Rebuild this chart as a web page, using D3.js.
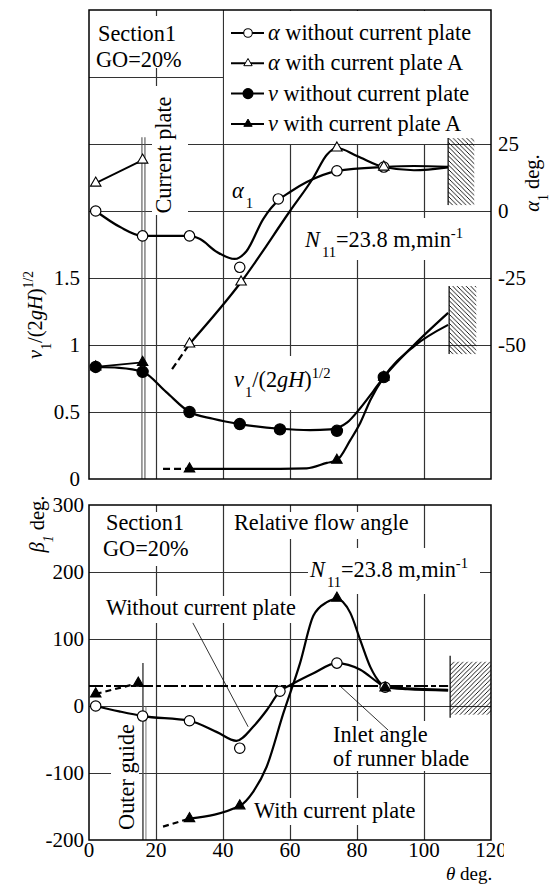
<!DOCTYPE html>
<html>
<head>
<meta charset="utf-8">
<script src="https://cdn.jsdelivr.net/npm/d3@7"></script>
<style>
body { margin: 0; background: #fff; }
svg { display: block; }
</style>
</head>
<body>
<svg id="chart"></svg>
<script>
const svgWidth = 556;
const svgHeight = 885;

// axis ticks
const thetaTicks = [0, 20, 40, 60, 80, 100, 120];
const thetaGrid = [20, 40, 60, 80, 100];
const vTicks = [0, 0.5, 1, 1.5];
const vGrid = [0.5, 1, 1.5, 2, 2.5, 3];
const alphaTicks = [-50, -25, 0, 25];
const betaTicks = [-200, -100, 0, 100, 200, 300];
const betaGrid = [-100, 0, 100, 200];

// alpha_1 [theta deg, alpha deg]
const alphaWithoutMarks = [[2, 0], [16, -9.3], [30, -9.3], [45, -21], [56.5, 4.5], [74, 15], [88, 16.4]];
const alphaWithoutLine = [[2, 0], [9.3, -6], [16, -9.3], [30, -9.3], [33, -10.4], [38.2, -15.3], [43.5, -17.9], [47, -15], [52, -3], [57, 4.5], [60, 7.1], [65, 10.8], [74, 14.9], [88, 16.4], [97, 16.8], [107.2, 16.5]];
const alphaWithMarks = [[2, 10.4], [16, 19], [30, -49.6], [45.4, -26.5], [74, 23.5], [88, 16.4]];
const alphaWithStart = [[2, 10.4], [16, 19]];
const alphaWithDash = [[24.8, -59], [30, -49.6]];
const alphaWithLine = [[30, -49.6], [45.4, -26.5], [60, 0], [67, 12.5], [71, 21], [74, 23.5], [80, 20.5], [88, 16.4], [97, 15.2], [107.2, 16.3]];

// v_1/(2gH)^1/2 [theta deg, value]
const vWithoutMarks = [[2, 0.836], [16, 0.80], [30, 0.5], [45, 0.41], [57, 0.37], [74, 0.36], [88, 0.76]];
const vWithoutLine = [[2, 0.836], [9, 0.83], [16, 0.80], [23, 0.65], [30, 0.5], [37, 0.45], [45, 0.41], [57, 0.375], [66, 0.365], [72, 0.37], [77, 0.42], [81, 0.53], [85, 0.66], [88, 0.76], [97, 1.0], [107.2, 1.24]];
const vWithMarks = [[2, 0.836], [16, 0.87], [30, 0.075], [74, 0.14], [88, 0.76]];
const vWithStart = [[2, 0.836], [16, 0.87]];
const vWithDash = [[22.1, 0.075], [30, 0.075]];
const vWithLine = [[30, 0.075], [45, 0.075], [65, 0.08], [71, 0.12], [74, 0.14], [78, 0.29], [81, 0.42], [84, 0.59], [88, 0.76], [97, 0.99], [107.2, 1.15]];

// beta_1 [theta deg, beta deg]
const betaWithoutMarks = [[2, 0], [16, -15], [30, -22], [45, -63], [57, 22], [74, 64], [88.4, 28]];
const betaWithoutLine = [[2, 0], [9, -8], [16, -15], [30, -22], [38.2, -39], [44, -52], [49, -31], [53.1, -6], [57, 22], [60, 31], [67, 49], [74, 64], [81, 54], [86, 36], [88.4, 28], [92, 27], [107.2, 24]];
const betaWithMarks = [[2, 18], [14.7, 34], [30, -168], [45, -149], [74, 161], [88.4, 27]];
const betaWithStart = [[2, 18], [14.7, 34]];
const betaWithDash = [[22.1, -180], [30, -168]];
const betaWithLine = [[30, -168], [45, -149], [49, -128], [53, -91], [58, -11], [63, 64], [67, 135], [71, 155], [74, 160], [78, 139], [81, 98], [84, 58], [87, 34], [88.4, 28], [95, 25], [107.2, 23]];
const inletAngle = 30;

const legendItems = [
	{ sym: "alpha", label: " without current plate", marker: "openCircle" },
	{ sym: "alpha", label: " with current plate A", marker: "openTri" },
	{ sym: "v", label: " without current plate", marker: "dot" },
	{ sym: "v", label: " with current plate A", marker: "tri" }
];

const fs = 22.3;
const tickFs = 21;
const serif = "'Liberation Serif', Tinos, 'Times New Roman', Times, 'DejaVu Serif', serif";

const svg = d3.select("#chart")
	.attr("width", svgWidth)
	.attr("height", svgHeight)
	.attr("font-family", serif);

const x = d3.scaleLinear().domain([0, 120]).range([89, 491]);
const yV = d3.scaleLinear().domain([0, 3.5]).range([479, 10]);
const yA = d3.scaleLinear().domain([-100, 75]).range([479, 10]);
const yB = d3.scaleLinear().domain([-200, 300]).range([840, 505]);

// hatch patterns
const defs = svg.append("defs");
defs.append("pattern").attr("id", "hatchBack")
	.attr("patternUnits", "userSpaceOnUse").attr("width", 4.5).attr("height", 4.5)
	.append("path").attr("d", "M0,0 L4.5,4.5 M-1,3.5 L1,5.5 M3.5,-1 L5.5,1")
	.attr("stroke", "#000").attr("stroke-width", 0.9);
defs.append("pattern").attr("id", "hatchFwd")
	.attr("patternUnits", "userSpaceOnUse").attr("width", 4.5).attr("height", 4.5)
	.append("path").attr("d", "M0,4.5 L4.5,0 M-1,1 L1,-1 M3.5,5.5 L5.5,3.5")
	.attr("stroke", "#000").attr("stroke-width", 0.9);
defs.append("clipPath").attr("id", "cropRight")
	.append("rect").attr("x", 0).attr("y", 0).attr("width", 504).attr("height", svgHeight);

function styleGrid(g) {
	g.select(".domain").remove();
	g.selectAll(".tick line").attr("stroke", "#333").attr("stroke-width", 1.2);
}

// ---------- gridlines ----------
svg.append("g")
	.attr("transform", "translate(0,479)")
	.call(d3.axisBottom(x).tickValues(thetaGrid).tickSize(-469).tickFormat(""))
	.call(styleGrid);
svg.append("g")
	.attr("transform", "translate(89,0)")
	.call(d3.axisLeft(yV).tickValues(vGrid).tickSize(-402).tickFormat(""))
	.call(styleGrid);
svg.append("g")
	.attr("transform", "translate(0,840)")
	.call(d3.axisBottom(x).tickValues(thetaGrid).tickSize(-335).tickFormat(""))
	.call(styleGrid);
svg.append("g")
	.attr("transform", "translate(89,0)")
	.call(d3.axisLeft(yB).tickValues(betaGrid).tickSize(-402).tickFormat(""))
	.call(styleGrid);

// white boxes behind labels
const blanks = [
	[90, 16, 132, 52],    // Section1 box (top)
	[224, 11, 267, 133],  // legend
	[152, 86, 36, 129],   // Current plate
	[300, 218, 170, 42],  // N11 top
	[284, 356, 54, 54],   // v1 label
	[95, 512, 126, 54],   // Section1 box (bottom)
	[226, 512, 194, 27],  // Relative flow angle
	[308, 548, 172, 46],  // N11 bottom
	[105, 596, 198, 27],  // Without current plate
	[253, 798, 170, 27],  // With current plate
	[330, 721, 146, 50],  // Inlet angle
	[111, 722, 28, 112]   // Outer guide
];
svg.append("g").selectAll("rect").data(blanks).enter().append("rect")
	.attr("x", d => d[0]).attr("y", d => d[1])
	.attr("width", d => d[2]).attr("height", d => d[3])
	.attr("fill", "#fff");

// hatched walls
const hatches = [
	{ x0: 107.2, x1: 115, y0: yA(27.2), y1: yA(2.2), fill: "url(#hatchBack)" },
	{ x0: 107.5, x1: 115.6, y0: yA(-28), y1: yA(-53.4), fill: "url(#hatchBack)" },
	{ x0: 107.8, x1: 120, y0: yB(66), y1: yB(-13), fill: "url(#hatchFwd)" }
];
const hg = svg.append("g");
hatches.forEach(h => {
	hg.append("rect").attr("x", x(h.x0)).attr("y", h.y0)
		.attr("width", x(h.x1) - x(h.x0)).attr("height", h.y1 - h.y0)
		.attr("fill", h.fill);
	hg.append("line").attr("x1", x(h.x0)).attr("x2", x(h.x0))
		.attr("y1", h.y0 - (h.fill === "url(#hatchFwd)" ? 6 : 0)).attr("y2", h.y1 + (h.fill === "url(#hatchFwd)" ? 3 : 0))
		.attr("stroke", "#000").attr("stroke-width", 1.2);
});

// current plate / outer guide double lines
[15.8, 16.7].forEach(t => {
	svg.append("line").attr("x1", x(t)).attr("x2", x(t))
		.attr("y1", yV(2.55)).attr("y2", yV(0))
		.attr("stroke", "#555").attr("stroke-width", 1.1);
});
[16.1, 17].forEach((t, i) => {
	svg.append("line").attr("x1", x(t)).attr("x2", x(t))
		.attr("y1", yB(i ? 0 : 64)).attr("y2", yB(-200))
		.attr("stroke", "#555").attr("stroke-width", i ? 0.8 : 1.6);
});

// ---------- curves ----------
const curves = svg.append("g").attr("fill", "none").attr("stroke", "#000").attr("stroke-width", 2.2);
function drawLine(pts, yScale, opts) {
	const gen = d3.line()
		.x(d => x(d[0]))
		.y(d => yScale(d[1]))
		.curve(opts.smooth ? d3.curveMonotoneX : d3.curveLinear);
	const p = curves.append("path").attr("d", gen(pts));
	if (opts.dash) p.attr("stroke-dasharray", opts.dash);
	if (opts.width) p.attr("stroke-width", opts.width);
	return p;
}

drawLine(alphaWithoutLine, yA, { smooth: true });
drawLine(alphaWithStart, yA, { width: 1.8 });
drawLine(alphaWithDash, yA, { dash: "7,4" });
drawLine(alphaWithLine, yA, { smooth: true });
drawLine(vWithoutLine, yV, { smooth: true });
drawLine(vWithStart, yV, { width: 1.8 });
drawLine(vWithDash, yV, { dash: "7,4" });
drawLine(vWithLine, yV, { smooth: true });
drawLine(betaWithoutLine, yB, { smooth: true });
drawLine(betaWithStart, yB, { dash: "6,4" });
drawLine(betaWithDash, yB, { dash: "6,4" });
drawLine(betaWithLine, yB, { smooth: true });
drawLine([[0, inletAngle], [107.2, inletAngle]], yB, { dash: "14,3,5,3", width: 2 });

// leader lines
svg.append("line")
	.attr("x1", x(31)).attr("y1", yB(124)).attr("x2", x(47.5)).attr("y2", yB(-31))
	.attr("stroke", "#000").attr("stroke-width", 0.8);
svg.append("line")
	.attr("x1", x(74.9)).attr("y1", yB(30)).attr("x2", x(89.3)).attr("y2", yB(-36))
	.attr("stroke", "#000").attr("stroke-width", 0.8);

// ---------- markers ----------
const triPath = d3.symbol(d3.symbolTriangle).size(48)();
const triSmall = d3.symbol(d3.symbolTriangle).size(30)();
function drawMarkers(pts, yScale, kind) {
	const g = svg.append("g");
	const sel = g.selectAll("path").data(pts).enter();
	if (kind === "openCircle" || kind === "dot") {
		sel.append("circle")
			.attr("cx", d => x(d[0])).attr("cy", d => yScale(d[1]))
			.attr("r", kind === "dot" ? 5.6 : 5.2)
			.attr("fill", kind === "dot" ? "#000" : "#fff")
			.attr("stroke", "#000").attr("stroke-width", 1.2);
	} else {
		sel.append("path")
			.attr("d", triPath)
			.attr("transform", d => `translate(${x(d[0])},${yScale(d[1])})`)
			.attr("fill", kind === "tri" ? "#000" : "#fff")
			.attr("stroke", "#000").attr("stroke-width", 1.1);
	}
}
drawMarkers(alphaWithoutMarks, yA, "openCircle");
drawMarkers(alphaWithMarks, yA, "openTri");
drawMarkers(vWithoutMarks, yV, "dot");
drawMarkers(vWithMarks, yV, "tri");
drawMarkers(betaWithoutMarks, yB, "openCircle");
drawMarkers(betaWithMarks, yB, "tri");

// ---------- frames ----------
svg.append("rect").attr("x", 89).attr("y", 10).attr("width", 402).attr("height", 469)
	.attr("fill", "none").attr("stroke", "#000").attr("stroke-width", 1.5);
svg.append("rect").attr("x", 89).attr("y", 505).attr("width", 402).attr("height", 335)
	.attr("fill", "none").attr("stroke", "#000").attr("stroke-width", 1.5);

// ---------- text ----------
function richText(g, tx, ty, parts, size) {
	const t = g.append("text").attr("x", tx).attr("y", ty)
		.attr("font-size", size).attr("font-family", serif).attr("fill", "#000");
	let shift = 0;
	parts.forEach(p => {
		const target = p.sub ? size * 0.45 : p.sup ? -size * 0.42 : 0;
		const s = t.append("tspan").text(p.t).attr("dy", target - shift);
		shift = target;
		if (p.sub || p.sup) s.attr("font-size", size * 0.66);
		if (p.i) s.attr("font-style", "italic");
		if (p.dx) s.attr("dx", p.dx);
	});
	return t;
}
function rotatedText(cx, cy, parts, size) {
	const g = svg.append("g").attr("transform", `translate(${cx},${cy}) rotate(-90)`);
	return richText(g, 0, 0, parts, size).attr("text-anchor", "middle");
}

// tick labels
svg.append("g").selectAll("text").data(vTicks).enter().append("text")
	.attr("x", 80).attr("y", d => yV(d)).attr("dy", "0.35em")
	.attr("text-anchor", "end").attr("font-size", tickFs)
	.text(d => d);
svg.append("g").selectAll("text").data(alphaTicks).enter().append("text")
	.attr("x", 498).attr("y", d => yA(d)).attr("dy", "0.35em")
	.attr("font-size", tickFs)
	.text(d => d);
svg.append("g").selectAll("text").data(betaTicks).enter().append("text")
	.attr("x", 84).attr("y", d => yB(d)).attr("dy", "0.35em")
	.attr("text-anchor", "end").attr("font-size", tickFs)
	.text(d => d);
svg.append("g").attr("clip-path", "url(#cropRight)")
	.selectAll("text").data(thetaTicks).enter().append("text")
	.attr("x", d => x(d)).attr("y", 857)
	.attr("text-anchor", "middle").attr("font-size", tickFs)
	.text(d => d);

// axis titles
rotatedText(42, 315, [{ t: "v", i: true }, { t: "1", sub: true }, { t: "/(2" }, { t: "gH", i: true }, { t: ")" }, { t: "1/2", sup: true }], 20.5);
rotatedText(539, 183, [{ t: "α", i: true }, { t: "1", sub: true }, { t: " deg." }], 20.5);
rotatedText(44, 524, [{ t: "β", i: true }, { t: "1", sub: true, i: true }, { t: " deg." }], 20.5);
richText(svg, 446, 880, [{ t: "θ", i: true }, { t: " deg." }], 19);

// panel notes
richText(svg, 98, 41, [{ t: "Section1" }], fs);
richText(svg, 96, 67, [{ t: "GO=20%" }], fs);
rotatedText(171, 155, [{ t: "Current plate" }], fs);
richText(svg, 232, 198, [{ t: "α", i: true }, { t: "1", sub: true, dx: 2 }], fs);
richText(svg, 305, 247, [{ t: "N", i: true }, { t: "11", sub: true, dx: 2 }, { t: "=23.8 m,min" }, { t: "-1", sup: true }], fs);
richText(svg, 234, 387, [{ t: "v", i: true }, { t: "1", sub: true, dx: 1 }, { t: "/(2" }, { t: "gH", i: true }, { t: ")" }, { t: "1/2", sup: true }], fs);

richText(svg, 106, 530, [{ t: "Section1" }], fs);
richText(svg, 103, 556, [{ t: "GO=20%" }], fs);
richText(svg, 234, 530, [{ t: "Relative flow angle" }], fs);
richText(svg, 310, 577, [{ t: "N", i: true }, { t: "11", sub: true, dx: 2 }, { t: "=23.8 m,min" }, { t: "-1", sup: true }], fs);
richText(svg, 106, 615, [{ t: "Without current plate" }], fs);
richText(svg, 254, 818, [{ t: "With current plate" }], fs);
richText(svg, 333, 742, [{ t: "Inlet angle" }], fs);
richText(svg, 333, 766, [{ t: "of runner blade" }], fs);
rotatedText(134, 777, [{ t: "Outer guide" }], fs);

// legend
const legend = svg.append("g");
legendItems.forEach((d, i) => {
	const ly = 33 + i * 30.3;
	legend.append("line").attr("x1", 231).attr("x2", 264).attr("y1", ly).attr("y2", ly)
		.attr("stroke", "#000").attr("stroke-width", 2);
	if (d.marker === "openCircle" || d.marker === "dot") {
		legend.append("circle").attr("cx", 248).attr("cy", ly).attr("r", d.marker === "dot" ? 5 : 4.3)
			.attr("fill", d.marker === "dot" ? "#000" : "#fff").attr("stroke", "#000").attr("stroke-width", 1.1);
	} else {
		legend.append("path").attr("d", triSmall).attr("transform", `translate(248,${ly})`)
			.attr("fill", d.marker === "tri" ? "#000" : "#fff").attr("stroke", "#000").attr("stroke-width", 1);
	}
	richText(legend, 268, ly + 7, [{ t: d.sym === "alpha" ? "α" : "v", i: true }, { t: d.label }], fs);
});
</script>
</body>
</html>
